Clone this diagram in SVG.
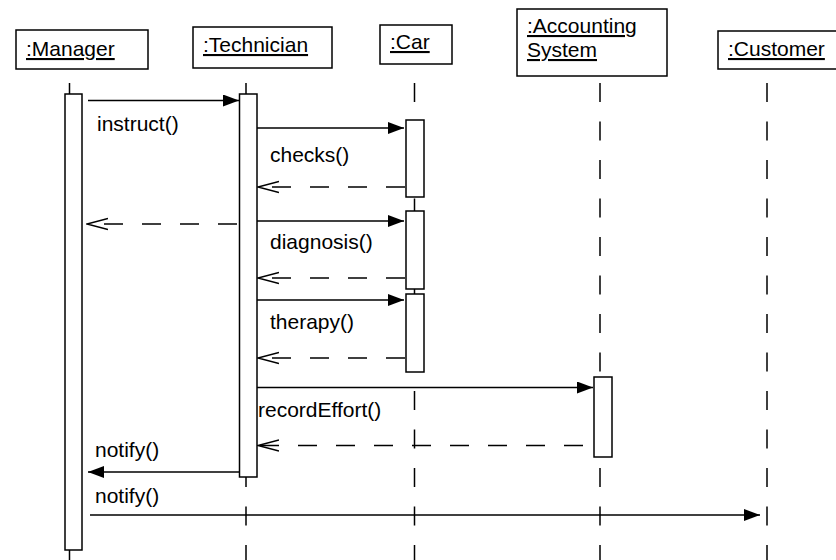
<svg xmlns="http://www.w3.org/2000/svg" width="836" height="560" viewBox="0 0 836 560">
<defs>
<style>
.box{fill:#fff;stroke:#000;stroke-width:1.5}
.act{fill:#fff;stroke:#000;stroke-width:1.5}
.life{stroke:#000;stroke-width:1.5;stroke-dasharray:19 19.5;fill:none}
.msg{stroke:#000;stroke-width:1.4;fill:none}
.ret{stroke:#000;stroke-width:1.4;fill:none;stroke-dasharray:19 19}
.t{font-family:"Liberation Sans",Arial,sans-serif;font-size:21px;fill:#000}
.u{text-decoration:underline}
</style>
<marker id="fill" viewBox="0 0 16 12" refX="16" refY="6" markerWidth="16" markerHeight="12" markerUnits="userSpaceOnUse" orient="auto">
<path d="M0,0 L16,6 L0,12 Z" fill="#000"/>
</marker>
<marker id="open" viewBox="0 0 22 14" refX="21" refY="7" markerWidth="22" markerHeight="14" markerUnits="userSpaceOnUse" orient="auto">
<path d="M0,1.5 L21,7 L0,12.5" fill="none" stroke="#000" stroke-width="1.5"/>
</marker>
</defs>
<rect width="836" height="560" fill="#fff"/>
<g id="lifelines">
<line class="life" x1="69.5" y1="83" x2="69.5" y2="560"/>
<line class="life" x1="246" y1="83" x2="246" y2="560"/>
<line class="life" x1="414.5" y1="83" x2="414.5" y2="560"/>
<line class="life" x1="600" y1="83" x2="600" y2="560"/>
<line class="life" x1="767" y1="83" x2="767" y2="560"/>
</g>
<g id="manager">
<rect class="box" x="16" y="30" width="132" height="39"/>
<text class="t u" x="26" y="56">:Manager</text>
<rect class="act" x="65" y="94" width="17" height="456"/>
</g>
<g id="technician">
<rect class="box" x="193" y="27" width="139" height="41"/>
<text class="t u" x="203" y="52">:Technician</text>
<rect class="act" x="239.5" y="94" width="17.5" height="383"/>
</g>
<g id="car">
<rect class="box" x="380" y="25" width="72" height="39"/>
<text class="t u" x="390" y="49">:Car</text>
<rect class="act" x="406" y="120" width="18" height="77"/>
<rect class="act" x="406" y="211" width="18" height="78"/>
<rect class="act" x="406" y="294" width="18" height="78"/>
</g>
<g id="accounting">
<rect class="box" x="517" y="9" width="150" height="67"/>
<text class="t u" x="527" y="33">:Accounting</text>
<text class="t u" x="527" y="57">System</text>
<rect class="act" x="594" y="377" width="18" height="80"/>
</g>
<g id="customer">
<rect class="box" x="718" y="31" width="125" height="38"/>
<text class="t u" x="728" y="56">:Customer</text>
</g>
<g id="connectors">
<line class="msg" x1="88" y1="100.5" x2="239" y2="100.5" marker-end="url(#fill)"/>
<line class="msg" x1="257" y1="128" x2="404" y2="128" marker-end="url(#fill)"/>
<line class="ret" x1="405" y1="187" x2="258" y2="187" marker-end="url(#open)"/>
<line class="ret" x1="237" y1="224" x2="87" y2="224" marker-end="url(#open)"/>
<line class="msg" x1="257" y1="221" x2="404" y2="221" marker-end="url(#fill)"/>
<line class="ret" x1="405" y1="278" x2="258" y2="278" marker-end="url(#open)"/>
<line class="msg" x1="257" y1="300" x2="404" y2="300" marker-end="url(#fill)"/>
<line class="ret" x1="405" y1="358" x2="258" y2="358" marker-end="url(#open)"/>
<line class="msg" x1="257" y1="387.5" x2="593" y2="387.5" marker-end="url(#fill)"/>
<line class="ret" x1="583" y1="445.5" x2="258" y2="445.5" marker-end="url(#open)"/>
<line class="msg" x1="239" y1="472" x2="88" y2="472" marker-end="url(#fill)"/>
<line class="msg" x1="90" y1="515" x2="760" y2="515" marker-end="url(#fill)"/>
<text class="t" x="97" y="131">instruct()</text>
<text class="t" x="270" y="162">checks()</text>
<text class="t" x="270" y="249">diagnosis()</text>
<text class="t" x="270" y="329">therapy()</text>
<text class="t" x="258" y="417">recordEffort()</text>
<text class="t" x="95" y="457">notify()</text>
<text class="t" x="95" y="503">notify()</text>
</g>
</svg>
